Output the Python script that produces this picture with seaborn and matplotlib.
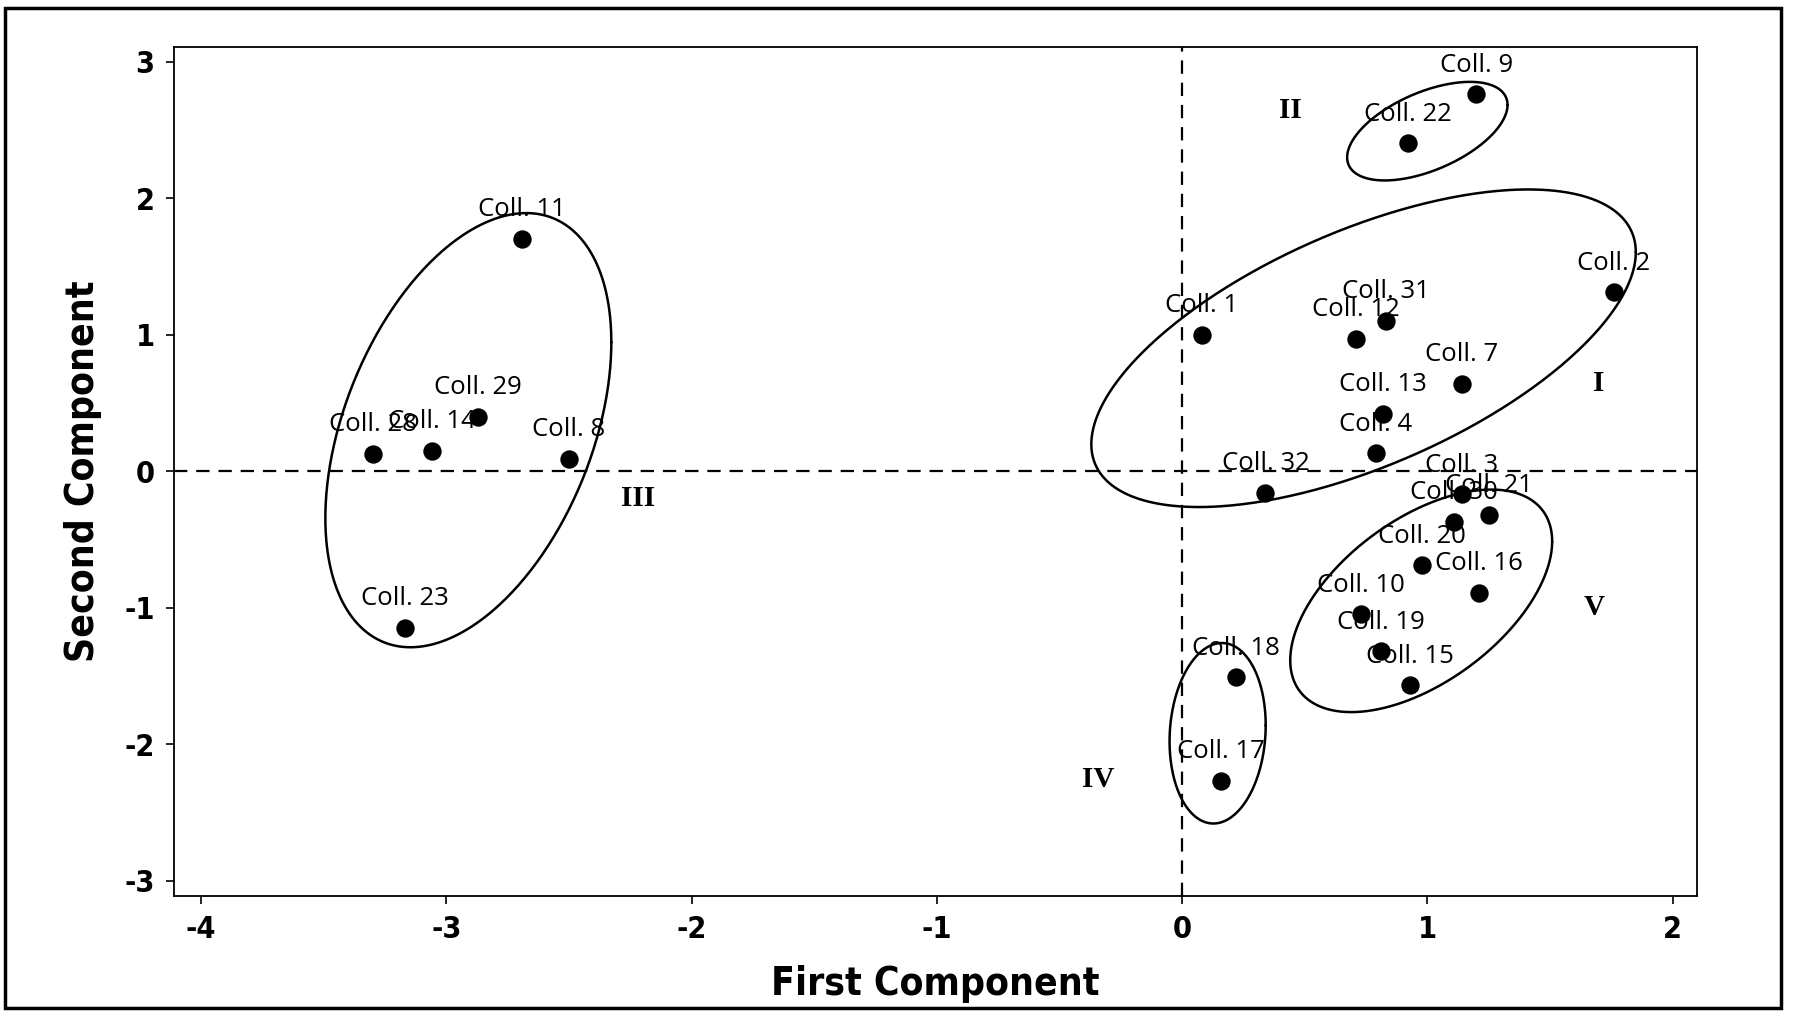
import numpy as np
import pandas as pd
import seaborn as sns
import matplotlib.pyplot as plt
from matplotlib.patches import Rectangle

# PCA scores of the collections
labels = ["Coll. 1", "Coll. 2", "Coll. 3", "Coll. 4", "Coll. 7", "Coll. 8",
          "Coll. 9", "Coll. 10", "Coll. 11", "Coll. 12", "Coll. 13", "Coll. 14",
          "Coll. 15", "Coll. 16", "Coll. 17", "Coll. 18", "Coll. 19", "Coll. 20",
          "Coll. 21", "Coll. 22", "Coll. 23", "Coll. 28", "Coll. 29", "Coll. 30",
          "Coll. 31", "Coll. 32"]
first_comp = [0.08, 1.76, 1.14, 0.79, 1.14, -2.50,
              1.20, 0.73, -2.69, 0.71, 0.82, -3.06,
              0.93, 1.21, 0.16, 0.22, 0.81, 0.98,
              1.25, 0.92, -3.17, -3.30, -2.87, 1.11,
              0.83, 0.34]
second_comp = [1.00, 1.31, -0.17, 0.13, 0.64, 0.09,
               2.76, -1.05, 1.70, 0.97, 0.42, 0.15,
               -1.57, -0.89, -2.27, -1.51, -1.32, -0.69,
               -0.32, 2.40, -1.15, 0.125, 0.40, -0.37,
               1.10, -0.16]

# cluster names and where their numerals sit
groups = ["I", "II", "III", "IV", "V"]
group_x = [1.70, 0.44, -2.22, -0.34, 1.68]
group_y = [0.64, 2.64, -0.20, -2.26, -1.00]

# cluster outlines: centre, half width, half height, phase between x and y (deg)
ell_cx = [0.74, 1.00, -2.91, 0.145, 0.975]
ell_cy = [0.90, 2.49, 0.30, -1.92, -0.95]
ell_a = [1.11, 0.327, 0.583, 0.196, 0.534]
ell_r = [1.163, 0.361, 1.590, 0.661, 0.815]
ell_phase = [52.8, 57.9, 66.1, 84.9, 57.7]

df = pd.DataFrame({"label": labels, "first": first_comp, "second": second_comp})

sns.set_style("white")
plt.rcParams["font.family"] = ["Open Sans", "DejaVu Sans"]
plt.rcParams["axes.unicode_minus"] = False
for key in ["text.color", "axes.labelcolor", "xtick.color", "ytick.color"]:
    plt.rcParams[key] = "black"

fig = plt.figure(figsize=(17.94, 10.11), dpi=100)
ax = fig.add_axes([0.097, 0.114, 0.849, 0.840])

ax.axhline(0, color="black", lw=1.6, ls=(0, (6, 4)), zorder=1)
ax.axvline(0, color="black", lw=1.6, ls=(0, (6, 4)), zorder=1)

sns.scatterplot(data=df, x="first", y="second", color="black", s=175,
                linewidth=0, ax=ax, zorder=3)

for lab, x, y in zip(df["label"], df["first"], df["second"]):
    ax.annotate(lab, (x, y), xytext=(0, 21), textcoords="offset points",
                ha="center", va="center", fontsize=18.5, zorder=4)

t = np.linspace(0, 2 * np.pi, 400)
for cx, cy, a, r, ph in zip(ell_cx, ell_cy, ell_a, ell_r, ell_phase):
    ax.plot(cx + a * np.cos(t), cy + r * np.cos(t - np.radians(ph)),
            color="black", lw=1.8, zorder=2)

for g, x, y in zip(groups, group_x, group_y):
    ax.text(x, y, g, ha="center", va="center", fontsize=21, fontweight="bold",
            family="Liberation Serif")

ax.set_xlim(-4.11, 2.10)
ax.set_ylim(-3.11, 3.11)
ax.set_xticks(range(-4, 3))
ax.set_yticks(range(-3, 4))
ax.tick_params(direction="out", length=6, width=1.2, labelsize=22, pad=8,
               bottom=True, left=True)
for tl in ax.get_xticklabels() + ax.get_yticklabels():
    tl.set_fontweight("bold")
    tl.set_fontstretch("condensed")
    tl.set_family("DejaVu Sans")
for sp in ax.spines.values():
    sp.set_color("black")
    sp.set_linewidth(1.3)

ax.set_xlabel("First Component", fontsize=28, fontweight="bold",
              family="DejaVu Sans", fontstretch="condensed", labelpad=15)
ax.set_ylabel("Second Component", fontsize=28, fontweight="bold",
              family="DejaVu Sans", fontstretch="condensed", labelpad=16)

# frame around the whole figure, as in the scanned original
fig.patches.append(Rectangle((0.003, 0.003), 0.990, 0.989, transform=fig.transFigure,
                             fill=False, edgecolor="black", lw=2.5))

fig.savefig("out.png", dpi=100)
